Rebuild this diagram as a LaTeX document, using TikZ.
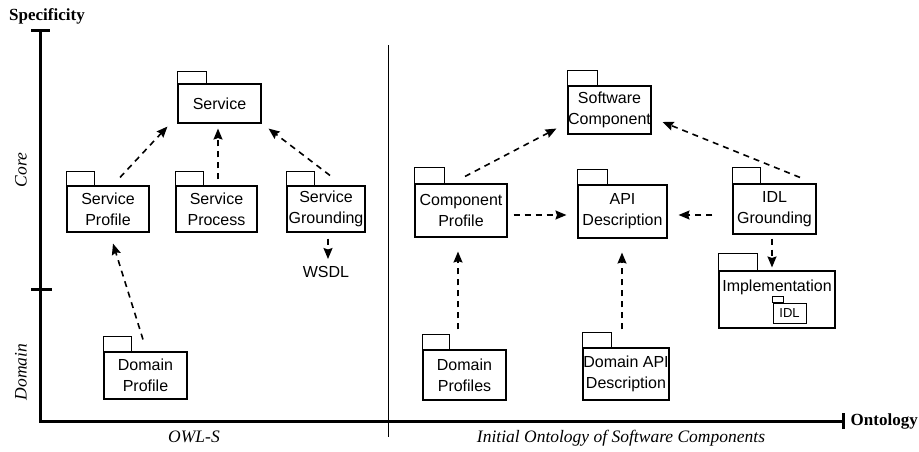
\documentclass[tikz,border=0pt]{standalone}
\usepackage{fontspec}
\setmainfont{Liberation Serif}
\setsansfont{Liberation Sans}
\usetikzlibrary{arrows.meta}

% UML package: name, left, top, right, bottom, tab width, tab height, label
\newcommand\pkgnode[8]{%
  \node[pkgbody, minimum width={#4-#2}, minimum height={#5-#3}] (#1)
    at ({(#2+#4)/2},{(#3+#5)/2}) {#8};
  \draw[pkgline] (#1.north west) rectangle ++(#6,-#7);
}

\begin{document}
\begin{tikzpicture}[x=1pt,y=-1pt,
  pkgline/.style={line width=1.1pt},
  pkgbody/.style={draw, pkgline, inner sep=0pt, align=center,
    font=\sffamily\fontsize{16}{21}\selectfont},
  dep/.style={line width=1.6pt, dash pattern=on 6pt off 5pt,
    -{Stealth[length=11pt,width=9pt,inset=1.5pt]}},
  axis/.style={line width=3pt, line join=miter},
  axlabel/.style={font=\itshape\fontsize{17.5}{20}\selectfont},
  axtitle/.style={font=\bfseries\fontsize{17}{20}\selectfont}]

\useasboundingbox (0,0) rectangle (919,451);

% axes
\coordinate (top) at (40,30);
\coordinate (origin) at (40,421);
\coordinate (right) at (843,421);
\draw[axis] (top) -- (origin) -- (right);
\draw[axis] ([xshift=-9]top) -- ([xshift=10]top);
\draw[axis] (31,289) -- (52,289);
\draw[axis] ([yshift=-8]right) -- ([yshift=8]right);
\node[axtitle] (spec) at (47,16) {Specificity};
\node[axtitle, anchor=east, inner sep=0pt] (onto) at (918,421) {Ontology};
\node[axlabel, rotate=90] (core) at (21,170) {Core};
\node[axlabel, rotate=90] (dom) at (21,372) {Domain};
\node[axlabel] (owls) at (194,437) {OWL-S};
\node[axlabel] (ioosc) at (621,438) {Initial Ontology of Software Components};

% divider between the two ontologies
\draw[line width=0.8pt] (388,45) -- (388,437);

% OWL-S packages
\pkgnode{service}{178}{84}{261}{123}{29}{12}{Service}
\pkgnode{sprof}{67}{186}{149}{232}{28}{14}{Service\\Profile}
\pkgnode{sproc}{176}{186}{257}{232}{28}{14}{Service\\Process}
\pkgnode{sgr}{287}{186}{365}{232}{28}{14}{Service\\Grounding}
\pkgnode{dprof}{104}{352}{187}{399}{28}{15}{Domain\\Profile}
\node[font=\sffamily\fontsize{16}{21}\selectfont] (wsdl) at (326,272) {WSDL};

\draw[dep] ([shift={(12,-8)}]sprof.north) -- ([shift={(-10,3)}]service.south west);
\draw[dep] ([shift={(1.5,-6)}]sproc.north) -- ([shift={(-1.5,5)}]service.south);
\draw[dep] ([shift={(4,-10)}]sgr.north) -- ([shift={(7,5)}]service.south east);
\draw[dep] ([shift={(-2.5,-12)}]dprof.north) -- ([shift={(5,11)}]sprof.south);
\draw[dep] ([shift={(2,6)}]sgr.south) -- ([shift={(2,-13)}]wsdl.center);

% software component packages
\pkgnode{swc}{568}{86}{651}{134}{30}{15}{Software\\Component}
\pkgnode{cprof}{415}{184}{507}{237}{30}{16}{Component\\Profile}
\pkgnode{api}{578}{185}{667}{238}{30}{15}{API\\Description}
\pkgnode{idlg}{733}{184}{816}{234}{28}{16}{IDL\\Grounding}
\pkgnode{impl}{719}{271}{835}{328}{39}{17}{}
\node[font=\sffamily\fontsize{16}{21}\selectfont] (impltxt) at (777,287) {Implementation};
\node[draw, line width=0.8pt, inner sep=0pt, minimum width=33, minimum height=20,
  font=\sffamily\fontsize{13}{15}\selectfont] (idl) at (789.5,313) {IDL};
\draw[line width=0.8pt] (idl.north west) rectangle ++(11,-6);
\pkgnode{dprofs}{423}{350}{506}{400}{27}{15}{Domain\\Profiles}
\pkgnode{dapi}{583}{348}{669}{400}{29}{15}{Domain API\\Description}

\draw[dep] ([shift={(4,-7)}]cprof.north) -- ([shift={(-11,-6)}]swc.south west);
\draw[dep] ([shift={(6,4.5)}]cprof.east) -- ([shift={(-11,3.5)}]api.west);
\draw[dep] ([shift={(-20,6)}]idlg.west) -- ([shift={(11,3.5)}]api.east);
\draw[dep] ([shift={(25.5,-6)}]idlg.north) -- ([shift={(11,12)}]swc.east);
\draw[dep] ([shift={(-2.5,4)}]idlg.south) -- ([shift={(-5,-3)}]impl.north);
\draw[dep] ([shift={(-6.5,-20)}]dprofs.north) -- ([shift={(-3,14)}]cprof.south);
\draw[dep] ([shift={(-4,-18)}]dapi.north) -- ([shift={(-0.5,14)}]api.south);
\end{tikzpicture}
\end{document}
